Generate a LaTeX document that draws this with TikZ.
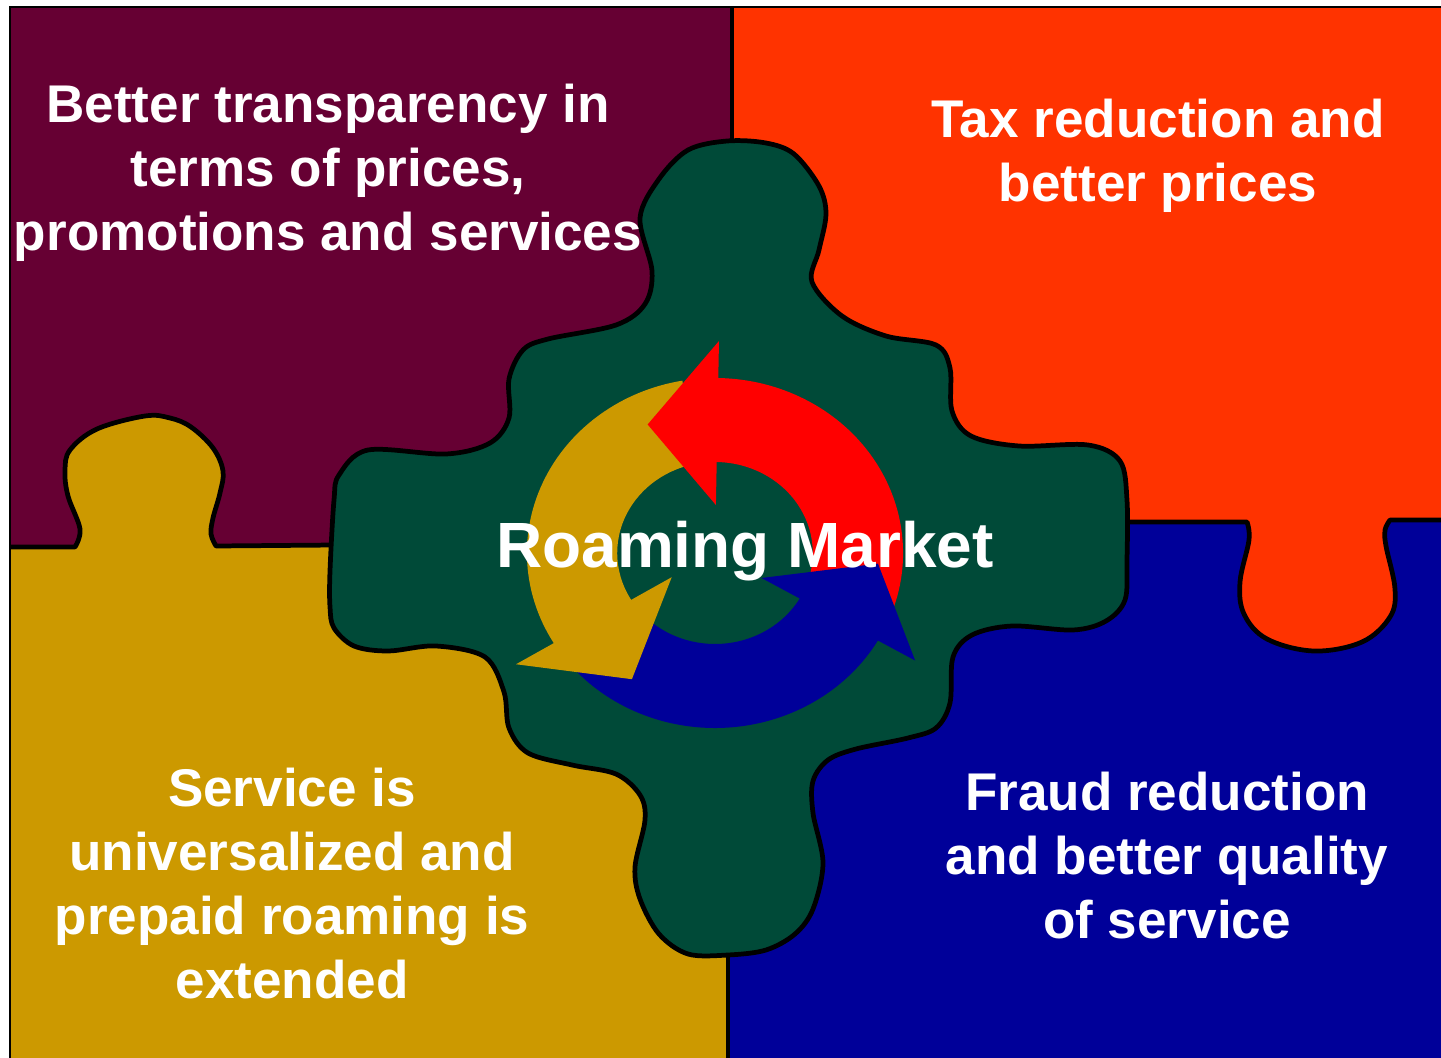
\documentclass[tikz,border=0pt]{standalone}
\usepackage{fontspec}
\setmainfont{Liberation Sans}
\tikzset{
  seam/.style={line width=2.7pt, line join=round},
  frameline/.style={line width=1.6pt},
  panetext/.style={text=white, font=\fontsize{30.2}{36.4}\selectfont\bfseries, align=center, inner sep=0pt, anchor=base},
}
\begin{document}
\begin{tikzpicture}[x=0.02cm, y=-0.02cm]
 \definecolor{wine}{HTML}{660033}
 \definecolor{tangerine}{HTML}{FF3300}
 \definecolor{mustard}{HTML}{CC9900}
 \definecolor{navy}{HTML}{000099}
 \definecolor{pine}{HTML}{004A38}
 \definecolor{flame}{HTML}{FF0000}
 \fill [white] (0,0) rectangle (1441,1058);
 \useasboundingbox (0,0) rectangle (1441,1058);
 % the four panes
 \fill [wine] (10,7) rectangle (732,547);
 \fill [tangerine] (732,7) rectangle (1441,522);
 \fill [mustard] (10,547) rectangle (728,1058);
 \fill [navy] (728,522) rectangle (1441,1058);
 % gold tab
 \fill [mustard] (75,560) -- plot [smooth, tension=0.6] coordinates {(75,547) (80,529) (68,496) (65,471) (70,450) (97,429) (145,416) (170,418) (191,427) (213,448) (223,471) (220,493) (213,518) (211,534) (216,546)} -- (216,560) -- cycle;
 \draw [seam] (10,547) -- (75,547) -- plot [smooth, tension=0.6] coordinates {(75,547) (80,529) (68,496) (65,471) (70,450) (97,429) (145,416) (170,418) (191,427) (213,448) (223,471) (220,493) (213,518) (211,534) (216,546)} -- (335,545);
 % orange tab
 \fill [tangerine] (1247,510) -- plot [smooth, tension=0.6] coordinates {(1247,522) (1249,540) (1240,582) (1244,614) (1267,639) (1314,651) (1362,642) (1390,617) (1395,589) (1386,546) (1385,530) (1390,520)} -- (1390,510) -- cycle;
 \draw [seam] (1120,522) -- (1247,522) -- plot [smooth, tension=0.6] coordinates {(1247,522) (1249,540) (1240,582) (1244,614) (1267,639) (1314,651) (1362,642) (1390,617) (1395,589) (1386,546) (1385,530) (1390,520)} -- (1441,520);
 \draw [seam] (732,7) -- (732,150);
 \draw [seam] (728,945) -- (728,1058);
 \draw [frameline] (10,1058) -- (10,7) -- (1441,7);
 % middle piece
 \filldraw [fill=pine, seam] plot [smooth cycle, tension=0.55] coordinates {
  (727,141) (766,143) (794,154) (819,186) (826,214) (819,250) (812,282) (842,316)
  (886,336) (936,345) (950,368) (952,411) (971,436) (1019,446) (1088,445) (1120,461)
  (1127,500) (1127,560) (1125,600) (1106,621) (1073,630) (1012,626) (972,635) (953,657)
  (950,703) (936,728) (908,738) (856,749) (828,760) (813,781) (813,813) (823,863)
  (813,909) (795,934) (766,950) (728,955) (688,954) (659,934) (640,899) (635,867)
  (645,820) (640,795) (616,774) (572,765) (528,753) (509,728) (504,692) (485,657)
  (436,646) (388,651) (354,646) (334,628) (330,607) (330,571) (334,500) (339,475)
  (368,450) (446,454) (490,443) (509,418) (509,379) (523,350) (548,339) (616,325)
  (645,304) (652,271) (640,218) (659,179) (688,150)};
 % circular arrows
 \begin{scope}[shift={(715,553)}, x=0.0215cm, y=0.02cm]
  \fill [flame] (-22:175) arc [start angle=-22, end angle=92, radius=175] -- (92:91) arc [start angle=92, end angle=-22, radius=91] -- cycle;
  \fill [mustard] (100:175) arc [start angle=100, end angle=214, radius=175] -- (214:91) arc [start angle=214, end angle=100, radius=91] -- cycle;
  \fill [navy] (220:175) arc [start angle=220, end angle=333, radius=175] -- (333:91) arc [start angle=333, end angle=220, radius=91] -- cycle;
  \fill [flame] (89:212) -- (116:143) -- (89:48) -- cycle;
  \fill [mustard] (211:216) -- (238.5:148) -- (211:47) -- cycle;
  \fill [navy] (330:215) -- (356:152) -- (330:50) -- cycle;
 \end{scope}
 \node [panetext] (transp) at (328,250) {Better transparency in\\terms of prices,\\promotions and services};
 \node [panetext] (tax) at (1158,201) {Tax reduction and\\better prices};
 \node [panetext] (univ) at (292,998) {Service is\\universalized and\\prepaid roaming is\\extended};
 \node [panetext] (fraud) at (1167,938) {Fraud reduction\\and better quality\\of service};
 \node [text=white, font=\fontsize{36.4}{40}\selectfont\bfseries, inner sep=0pt, anchor=base] (market) at (745,567) {Roaming Market};
\end{tikzpicture}
\end{document}
